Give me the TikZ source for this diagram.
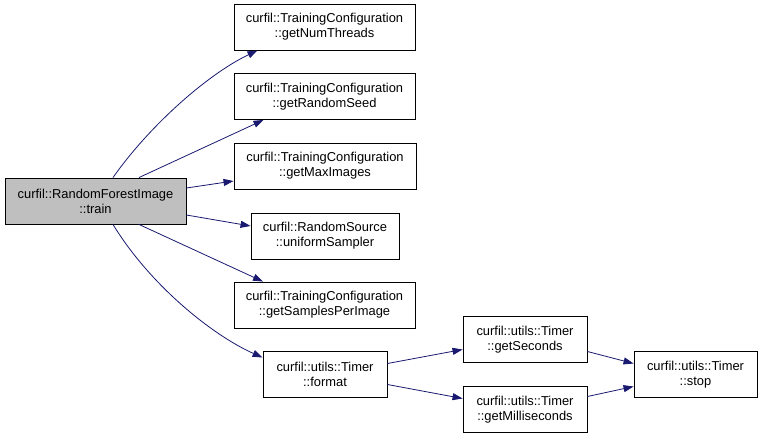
\documentclass[tikz,border=0pt]{standalone}
\usepackage{fontspec}
\setmainfont{Liberation Sans}
\usepackage{tikz}
\usetikzlibrary{arrows.meta, positioning}
\definecolor{edgeblue}{HTML}{191970}
\definecolor{rootgray}{HTML}{BFBFBF}

\begin{document}
\begin{tikzpicture}[
      x=1pt, y=-1pt,
      fn/.style={rectangle, draw=black, line width=0.9pt, fill=white, align=center, minimum height=46pt, inner sep=0pt, font=\fontsize{12.9}{15}\selectfont},
      rootfn/.style={fn, fill=rootgray},
      call/.style={draw=edgeblue, line width=0.8pt, -{Triangle[length=10pt, width=7pt]}},
    ]
      \useasboundingbox (0,0) rectangle (763,437);
      \node[rootfn, minimum width=181pt] (train) at (95.5,201) {curfil::RandomForestImage\\::train};
      \node[fn, minimum width=181pt] (numthreads) at (324.5,27) {curfil::TrainingConfiguration\\::getNumThreads};
      \node[fn, minimum width=181pt] (randomseed) at (324.5,96.5) {curfil::TrainingConfiguration\\::getRandomSeed};
      \node[fn, minimum width=182pt] (maximages) at (325,166) {curfil::TrainingConfiguration\\::getMaxImages};
      \node[fn, minimum width=148pt] (sampler) at (325,236) {curfil::RandomSource\\::uniformSampler};
      \node[fn, minimum width=181pt] (samples) at (324.5,305) {curfil::TrainingConfiguration\\::getSamplesPerImage};
      \node[fn, minimum width=124pt] (format) at (325,374.5) {curfil::utils::Timer\\::format};
      \node[fn, minimum width=124pt] (seconds) at (525,339.5) {curfil::utils::Timer\\::getSeconds};
      \node[fn, minimum width=124pt] (millis) at (525,409.5) {curfil::utils::Timer\\::getMilliseconds};
      \node[fn, minimum width=123pt] (stop) at (695.5,374.5) {curfil::utils::Timer\\::stop};
      \draw[call] ([xshift=17.5pt]train.north) .. controls (150,125) and (208,74) .. ([xshift=-67pt]numthreads.south);
      \draw[call] ([xshift=43.5pt]train.north) -- ([xshift=-61pt]randomseed.south);
      \draw[call] ([yshift=13pt]train.east) -- ([yshift=-15pt]maximages.west);
      \draw[call] ([yshift=-14pt]train.east) -- ([yshift=10pt]sampler.west);
      \draw[call] ([xshift=43.5pt]train.south) -- ([xshift=-61.5pt]samples.north);
      \draw[call] ([xshift=17.5pt]train.south) .. controls (150,285) and (212,335) .. ([yshift=17pt]format.west);
      \draw[call] ([yshift=11pt]format.east) -- ([yshift=-10pt]seconds.west);
      \draw[call] ([yshift=-10pt]format.east) -- ([yshift=11pt]millis.west);
      \draw[call] ([yshift=-12pt]seconds.east) -- ([yshift=11pt]stop.west);
      \draw[call] ([yshift=13pt]millis.east) -- ([yshift=-12pt]stop.west);
    \end{tikzpicture}
\end{document}
